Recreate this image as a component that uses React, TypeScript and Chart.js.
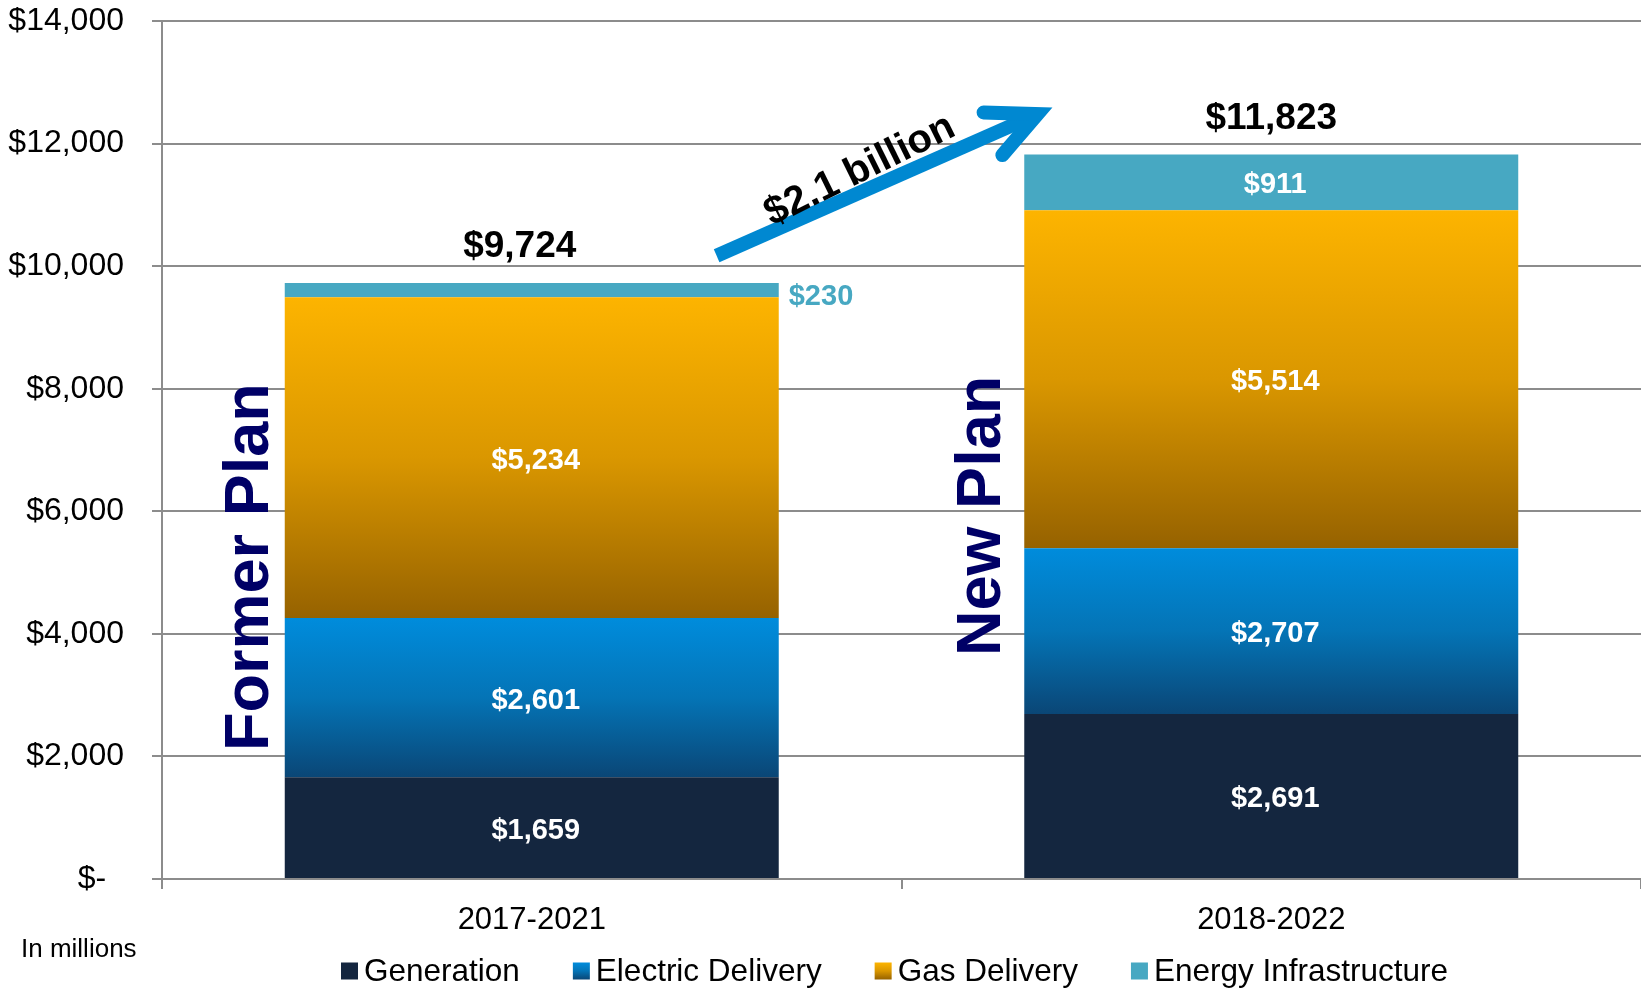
import { useEffect, useRef } from 'react';
import { Chart, registerables } from 'chart.js';

Chart.register(...registerables);

const categories = ['2017-2021', '2018-2022'];
const generation = [1659, 2691];
const electricDelivery = [2601, 2707];
const gasDelivery = [5234, 5514];
const energyInfrastructure = [230, 911];
const seriesNames = ['Generation', 'Electric Delivery', 'Gas Delivery', 'Energy Infrastructure'];
const yMin = 0;
const yMax = 14000;
const yStep = 2000;
const planLabels = ['Former Plan', 'New Plan'];
const planLabelStart = [2090, 3640];
const changeLabel = '$2.1 billion';
const arrowTail = [0.25, 10170];
const arrowJoin = [0.684, 12480];
const unitLabel = 'In millions';

const seriesList = [generation, electricDelivery, gasDelivery, energyInfrastructure];
const FONT = "'Liberation Sans', Arial, Helvetica, sans-serif";
const GRID = '#8c8c8c';

const solid = ['#14263f', null, null, '#47a8c2'];
const gradStops: (string[] | null)[] = [
  null,
  ['#008cdc', '#0474b6', '#0a4676'],
  ['#fdb400', '#da9700', '#966200'],
  null,
];

function fillFor(ctx2d: CanvasRenderingContext2D, di: number, yTop: number, yBot: number) {
  const stops = gradStops[di];
  if (!stops) return solid[di] as string;
  if (!isFinite(yTop) || !isFinite(yBot) || yTop === yBot) return stops[1];
  const g = ctx2d.createLinearGradient(0, yTop, 0, yBot);
  g.addColorStop(0, stops[0]);
  g.addColorStop(0.5, stops[1]);
  g.addColorStop(1, stops[2]);
  return g;
}

function bg(di: number) {
  return (c: any) => {
    const chart = c.chart;
    const y = chart.scales && chart.scales.y;
    if (c.type !== 'data' || !y) return solid[di] || (gradStops[di] as string[])[0];
    const i = c.dataIndex;
    let base = 0;
    for (let k = 0; k < di; k++) base += seriesList[k][i];
    const yTop = y.getPixelForValue(base + seriesList[di][i]);
    const yBot = y.getPixelForValue(base);
    return fillFor(chart.ctx, di, yTop, yBot);
  };
}

const fmt = (v: number) => '$' + v.toLocaleString('en-US');

const overlay = {
  id: 'overlay',
  afterDatasetsDraw(chart: any) {
    const ctx: CanvasRenderingContext2D = chart.ctx;
    const xs = chart.scales.x;
    const ys = chart.scales.y;
    ctx.save();
    ctx.textAlign = 'center';
    ctx.textBaseline = 'middle';
    seriesList.forEach((s, di) => {
      const meta = chart.getDatasetMeta(di);
      meta.data.forEach((el: any, i: number) => {
        const v = s[i];
        const cy = (el.y + el.base) / 2;
        ctx.font = `bold 29px ${FONT}`;
        if (Math.abs(el.base - el.y) < 30) {
          ctx.fillStyle = '#47a8c2';
          ctx.textAlign = 'left';
          ctx.fillText(fmt(v), el.x + el.width / 2 + 10, cy + 7);
          ctx.textAlign = 'center';
        } else {
          ctx.fillStyle = '#ffffff';
          ctx.fillText(fmt(v), el.x + 4, cy + 3);
        }
      });
    });
    categories.forEach((_, i) => {
      const total = seriesList.reduce((a, s) => a + s[i], 0);
      const meta = chart.getDatasetMeta(seriesList.length - 1);
      const el = meta.data[i];
      ctx.font = `bold 37px ${FONT}`;
      ctx.fillStyle = '#000';
      ctx.textAlign = 'center';
      ctx.textBaseline = 'middle';
      ctx.fillText(fmt(total), el.x + (i === 0 ? -12 : 0), ys.getPixelForValue(total) - 36);
    });
    planLabels.forEach((label, i) => {
      const el = chart.getDatasetMeta(0).data[i];
      const left = el.x - el.width / 2;
      ctx.save();
      ctx.translate(left - (i === 0 ? 17 : 24), ys.getPixelForValue(planLabelStart[i]));
      ctx.rotate(-Math.PI / 2);
      ctx.font = `bold 63px ${FONT}`;
      ctx.fillStyle = '#000066';
      ctx.textAlign = 'left';
      ctx.textBaseline = 'alphabetic';
      ctx.fillText(label, 0, 0);
      ctx.restore();
    });
    const tx = xs.getPixelForValue(arrowTail[0]);
    const ty = ys.getPixelForValue(arrowTail[1]);
    const jx = xs.getPixelForValue(arrowJoin[0]);
    const jy = ys.getPixelForValue(arrowJoin[1]);
    const ang = Math.atan2(jy - ty, jx - tx);
    ctx.strokeStyle = '#0088d1';
    ctx.lineWidth = 14;
    ctx.lineCap = 'butt';
    ctx.beginPath();
    ctx.moveTo(tx, ty);
    ctx.lineTo(jx, jy);
    ctx.stroke();
    const wl = 54;
    const wa = (25.5 * Math.PI) / 180;
    const back = ang + Math.PI;
    ctx.lineCap = 'round';
    ctx.lineJoin = 'miter';
    ctx.miterLimit = 10;
    ctx.beginPath();
    ctx.moveTo(jx + wl * Math.cos(back - wa), jy + wl * Math.sin(back - wa));
    ctx.lineTo(jx, jy);
    ctx.lineTo(jx + wl * Math.cos(back + wa), jy + wl * Math.sin(back + wa));
    ctx.stroke();
    const mx = (tx + jx) / 2 - 10 * Math.cos(ang);
    const my = (ty + jy) / 2 - 10 * Math.sin(ang);
    ctx.save();
    ctx.translate(mx + 20 * Math.sin(ang), my - 20 * Math.cos(ang));
    ctx.rotate(ang - (2.5 * Math.PI) / 180);
    ctx.font = `bold 40px ${FONT}`;
    ctx.fillStyle = '#000';
    ctx.textAlign = 'center';
    ctx.textBaseline = 'middle';
    ctx.fillText(changeLabel, 0, 0);
    ctx.restore();
    ctx.restore();
  },
  afterDraw(chart: any) {
    const ctx: CanvasRenderingContext2D = chart.ctx;
    ctx.save();
    ctx.font = `26px ${FONT}`;
    ctx.fillStyle = '#000';
    ctx.textAlign = 'left';
    ctx.textBaseline = 'middle';
    ctx.fillText(unitLabel, 21, 950);
    ctx.font = `31.5px ${FONT}`;
    let x = 341;
    const cy = 971;
    const box = 17;
    seriesNames.forEach((name, di) => {
      ctx.fillStyle = fillFor(ctx, di, cy - box / 2, cy + box / 2) as any;
      ctx.fillRect(x, cy - box / 2, box, box);
      ctx.fillStyle = '#000';
      ctx.fillText(name, x + box + 6, cy + 1);
      x += box + 6 + ctx.measureText(name).width + 53;
    });
    ctx.restore();
  },
};

export default function App() {
  const ref = useRef<HTMLCanvasElement>(null);
  useEffect(() => {
    if (!ref.current) return;
    const chart = new Chart(ref.current, {
      type: 'bar',
      data: {
        labels: categories,
        datasets: seriesList.map((s, di) => ({
          label: seriesNames[di],
          data: s,
          backgroundColor: bg(di),
          borderWidth: 0,
          categoryPercentage: 1,
          barPercentage: 0.668,
        })),
      },
      options: {
        responsive: false,
        animation: false,
        layout: { padding: { top: 21, left: 0, right: 0, bottom: 0 } },
        plugins: { legend: { display: false }, tooltip: { enabled: false } },
        scales: {
          x: {
            stacked: true,
            offset: true,
            grid: { display: true, drawOnChartArea: false, drawTicks: true, tickLength: 10, color: GRID, lineWidth: 2 },
            border: { display: true, color: GRID, width: 2 },
            ticks: { font: { family: FONT, size: 31 }, color: '#000', padding: 13 },
            afterFit: (s: any) => { s.height = 109; s.paddingLeft = 0; s.paddingRight = 0; },
          },
          y: {
            stacked: true,
            min: yMin,
            max: yMax,
            grid: { color: GRID, lineWidth: 2, tickLength: 10, drawTicks: true },
            border: { display: true, color: GRID, width: 2 },
            ticks: {
              stepSize: yStep,
              font: { family: FONT, size: 32 },
              color: '#000',
              padding: 28,
              callback: (v: any) => (Number(v) === 0 ? '$-  ' : fmt(Number(v))),
            },
            afterFit: (s: any) => { s.width = 162; s.paddingTop = 0; s.paddingBottom = 0; },
          },
        },
      },
      plugins: [overlay],
    });
    return () => chart.destroy();
  }, []);
  return (
    <div style={{ position: 'fixed', left: 0, top: 0, width: 1641, height: 988, background: '#fff' }}>
      <canvas ref={ref} width={1641} height={988} style={{ display: 'block' }} />
    </div>
  );
}
